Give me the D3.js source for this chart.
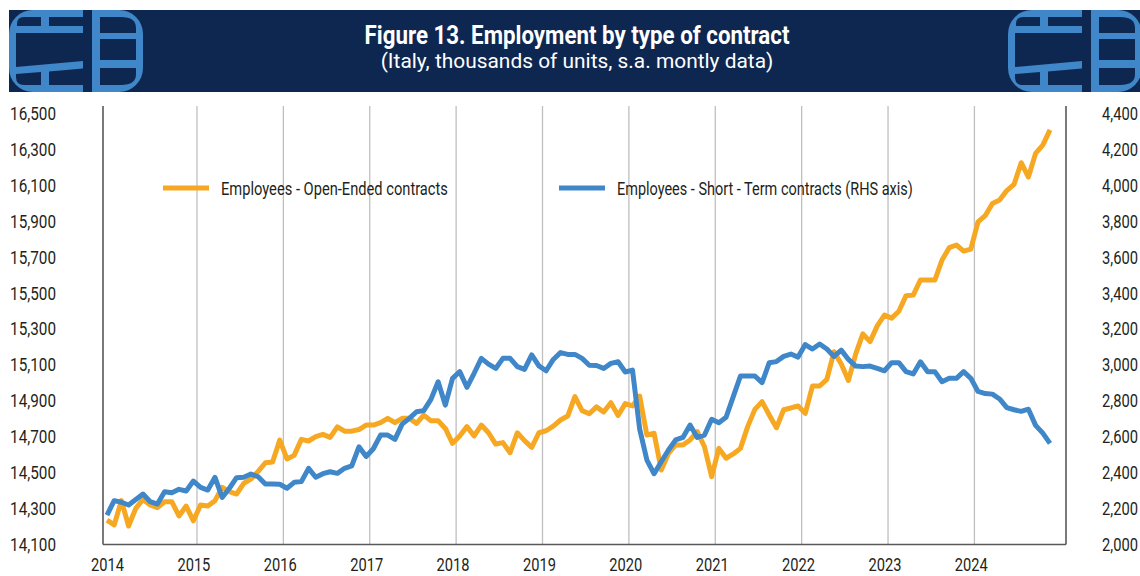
<!DOCTYPE html>
<html>
<head>
<meta charset="utf-8">
<script src="https://cdn.jsdelivr.net/npm/d3@7"></script>
<style>
  body { margin: 0; background: #fff; }
  svg { display: block; }
</style>
</head>
<body>
<svg id="chart" width="1140" height="576"></svg>
<script>
// Data (monthly Jan 2014 - Dec 2024)
const years = ['2014', '2015', '2016', '2017', '2018', '2019', '2020', '2021', '2022', '2023', '2024'];
const leftTicks = [14100, 14300, 14500, 14700, 14900, 15100, 15300, 15500, 15700, 15900, 16100, 16300, 16500];
const rightTicks = [2000, 2200, 2400, 2600, 2800, 3000, 3200, 3400, 3600, 3800, 4000, 4200, 4400];
const seriesNames = ['Employees - Open-Ended contracts', 'Employees - Short - Term contracts (RHS axis)'];

// thousands, left axis
const openEnded = [
  14236, 14209, 14344, 14203, 14301, 14351, 14320, 14305, 14338, 14338, 14259, 14314,
  14232, 14320, 14314, 14344, 14418, 14394, 14381, 14440, 14465, 14507, 14555, 14559,
  14681, 14576, 14596, 14685, 14676, 14700, 14713, 14696, 14755, 14731, 14731, 14740,
  14765, 14765, 14778, 14802, 14778, 14802, 14802, 14774, 14820, 14789, 14789, 14746,
  14663, 14704, 14756, 14704, 14765, 14722, 14659, 14667, 14611, 14722, 14678, 14641,
  14722, 14733, 14759, 14793, 14815, 14923, 14845, 14828, 14866, 14837, 14889, 14818,
  14884, 14871, 14926, 14709, 14719, 14515, 14607, 14654, 14654, 14682, 14728, 14644,
  14478, 14635, 14580, 14604, 14635, 14756, 14852, 14895, 14821, 14750, 14850, 14860,
  14871, 14830, 14982, 14982, 15019, 15173, 15105, 15013, 15160, 15272, 15229, 15317,
  15377, 15360, 15398, 15485, 15488, 15572, 15572, 15572, 15683, 15752, 15767, 15733,
  15744, 15896, 15930, 15998, 16017, 16070, 16104, 16225, 16145, 16277, 16323, 16408
];

// thousands, right axis
const shortTerm = [
  2164, 2244, 2235, 2220, 2251, 2281, 2238, 2225, 2294, 2288, 2307, 2298,
  2353, 2318, 2303, 2374, 2262, 2313, 2372, 2374, 2392, 2377, 2337, 2337,
  2335, 2313, 2346, 2350, 2424, 2374, 2394, 2405, 2396, 2424, 2437, 2544,
  2490, 2533, 2609, 2609, 2585, 2670, 2702, 2739, 2745, 2808, 2906, 2776,
  2925, 2962, 2875, 2953, 3036, 3004, 2980, 3036, 3036, 2990, 2975, 3055,
  2994, 2967, 3030, 3068, 3058, 3058, 3036, 2998, 2996, 2980, 3008, 3017,
  2960, 2971, 2642, 2470, 2394, 2461, 2526, 2582, 2596, 2665, 2596, 2609,
  2697, 2678, 2708, 2823, 2938, 2938, 2938, 2901, 3012, 3018, 3047, 3060,
  3043, 3113, 3088, 3116, 3088, 3047, 3082, 3030, 2993, 2990, 2993, 2980,
  2967, 3012, 3012, 2962, 2949, 3017, 2962, 2962, 2906, 2925, 2925, 2962,
  2925, 2852, 2840, 2837, 2810, 2762, 2750, 2741, 2753, 2663, 2620, 2563
];

// Style
const ORANGE = '#F7A823';
const BLUE = '#3F87C9';
const NAVY = '#0E2751';
const INK = '#231F20';
const FONT = 'Roboto, "Liberation Sans", sans-serif';

const svg = d3.select('#chart');
svg.append('rect').attr('width', 1140).attr('height', 576).attr('fill', '#fff');

// squeeze text horizontally to a target width (the original uses a condensed face)
function squeeze(sel, width) {
  sel.each(function (d) {
    const t = d3.select(this);
    const x0 = +t.attr('x') || 0;
    const natural = this.getComputedTextLength();
    const w = typeof width === 'function' ? width(d) : width;
    t.attr('x', 0).attr('transform', `translate(${x0},0) scale(${w / natural},1)`);
  });
}

// Header band
svg.append('rect')
  .attr('x', 9).attr('y', 10).attr('width', 1131).attr('height', 82)
  .attr('fill', NAVY);

function drawLogo(ox) {
  const g = svg.append('g').attr('transform', `translate(${ox},10)`);
  // blue body, both halves
  g.append('rect').attr('x', 0).attr('y', 0).attr('width', 134).attr('height', 82)
    .attr('rx', 24).attr('fill', BLUE);
  // gap between halves
  g.append('rect').attr('x', 74).attr('y', 0).attr('width', 9).attr('height', 82).attr('fill', NAVY);
  // dark cells, left half (open to the right)
  const cells = [
    'M8,16 V14 Q8,7 15,7 H32 V16 Z',
    'M40,7 H74 V16 H40 Z',
    'M7,23 H74 V51 L7,57 Z',
    'M7,64 L32,62 V75 H15 Q7,75 7,67 Z',
    'M40,61.5 L74,58.5 V75 H40 Z',
    // right half
    'M91,7 H112 Q127,7 127,18 V23 H91 Z',
    'M91,29 H127 V50 H91 Z',
    'M91,58 H127 V64 Q127,75 112,75 H91 Z'
  ];
  g.selectAll('path.cell').data(cells).join('path')
    .attr('class', 'cell').attr('d', d => d).attr('fill', NAVY);
}
drawLogo(9);
drawLogo(1008);

svg.append('text')
  .attr('x', 577).attr('y', 44)
  .attr('text-anchor', 'middle')
  .attr('font-family', FONT).attr('font-weight', 700).attr('font-size', 25)
  .attr('fill', '#fff')
  .text('Figure 13. Employment by type of contract')
  .call(squeeze, 425);

svg.append('text')
  .attr('x', 577).attr('y', 68)
  .attr('text-anchor', 'middle')
  .attr('font-family', FONT).attr('font-size', 20.5)
  .attr('fill', '#fff')
  .text('(Italy, thousands of units, s.a. montly data)')
  .call(squeeze, 393);

// Plot area
const plot = { left: 103, right: 1066, top: 106, bottom: 544.5 };

const x = d3.scaleLinear().domain([0, openEnded.length - 1]).range([107, 1050]);
const yL = d3.scaleLinear().domain([14100, 16500]).range([plot.bottom, 113.3]);
const yR = d3.scaleLinear().domain([2000, 4400]).range([plot.bottom, 113.3]);

const yearIdx = years.map((d, i) => i * 12);

// vertical gridlines at year boundaries
svg.append('g').selectAll('line')
  .data(yearIdx.slice(1))
  .join('line')
  .attr('x1', d => x(d + 0.5)).attr('x2', d => x(d + 0.5))
  .attr('y1', plot.top).attr('y2', plot.bottom)
  .attr('stroke', '#BFBFBF').attr('stroke-width', 1.3);

// frame
const frame = svg.append('g').attr('stroke', '#595959').attr('stroke-width', 1.6).attr('fill', 'none');
frame.append('line').attr('x1', plot.left).attr('x2', plot.left).attr('y1', plot.top).attr('y2', plot.bottom);
frame.append('line').attr('x1', plot.right).attr('x2', plot.right).attr('y1', plot.top).attr('y2', plot.bottom);
frame.append('line').attr('x1', plot.left).attr('x2', plot.right).attr('y1', plot.bottom).attr('y2', plot.bottom);

// axes
function styleAxis(g, w) {
  g.select('.domain').remove();
  g.attr('font-family', FONT).attr('font-size', 19);
  g.selectAll('text').attr('fill', INK).call(squeeze, w);
}

svg.append('g')
  .attr('transform', `translate(${plot.left},0)`)
  .call(d3.axisLeft(yL).tickValues(leftTicks).tickFormat(d3.format(',')).tickSize(0).tickPadding(47))
  .call(g => styleAxis(g, 46));

svg.append('g')
  .attr('transform', `translate(${plot.right},0)`)
  .call(d3.axisRight(yR).tickValues(rightTicks).tickFormat(d3.format(',')).tickSize(0).tickPadding(36))
  .call(g => styleAxis(g, 36));

svg.append('g')
  .attr('transform', `translate(0,${plot.bottom})`)
  .call(d3.axisBottom(x).tickValues(yearIdx).tickFormat((d, i) => years[i]).tickSize(0).tickPadding(13))
  .call(g => styleAxis(g, 33));

// lines
const lineL = d3.line().x((d, i) => x(i)).y(d => yL(d));
const lineR = d3.line().x((d, i) => x(i)).y(d => yR(d));

svg.append('path').datum(openEnded)
  .attr('d', lineL)
  .attr('fill', 'none').attr('stroke', ORANGE).attr('stroke-width', 5)
  .attr('stroke-linejoin', 'round');

svg.append('path').datum(shortTerm)
  .attr('d', lineR)
  .attr('fill', 'none').attr('stroke', BLUE).attr('stroke-width', 5)
  .attr('stroke-linejoin', 'round');

// legend
const legend = [
  { name: seriesNames[0], color: ORANGE, x: 163, w: 227 },
  { name: seriesNames[1], color: BLUE, x: 559, w: 296 }
];
const lg = svg.append('g').selectAll('g').data(legend).join('g')
  .attr('transform', d => `translate(${d.x},188)`);
lg.append('line').attr('x1', 0).attr('x2', 46).attr('y1', 0).attr('y2', 0)
  .attr('stroke', d => d.color).attr('stroke-width', 5);
lg.append('text')
  .attr('x', 58).attr('y', 6.5)
  .attr('font-family', FONT).attr('font-size', 19).attr('fill', INK)
  .text(d => d.name)
  .call(squeeze, d => d.w);
</script>
</body>
</html>
